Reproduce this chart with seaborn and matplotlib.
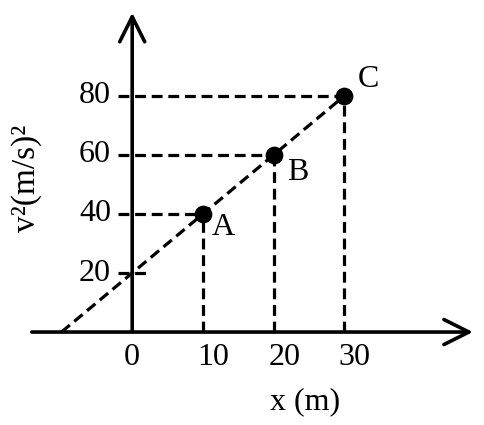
import matplotlib
matplotlib.use("Agg")
import matplotlib.pyplot as plt
import seaborn as sns
import pandas as pd

# points
point_names = ["A", "B", "C"]
x_vals = [10, 20, 30]
v2_vals = [40, 60, 80]

# dashed straight line through the points, meets the x axis at -10
fit_x = [-10, 30]
fit_v2 = [0, 80]

x_ticks = [0, 10, 20, 30]
y_ticks = [20, 40, 60, 80]

sns.set_style("white")
plt.rcParams["font.family"] = ["Liberation Serif", "DejaVu Serif"]
plt.rcParams["text.color"] = "black"

points = pd.DataFrame({"name": point_names, "x": x_vals, "v2": v2_vals})
fit = pd.DataFrame({"x": fit_x, "v2": fit_v2})

fig = plt.figure(figsize=(4.85, 4.25), dpi=100)
ax = fig.add_axes([0, 0, 1, 1])
ax.set_xlim(-18.7, 49.9)
ax.set_ylim(-31.5, 112.5)
ax.axis("off")

dash = (0, (3.4, 1.8))
lw = 2.3

# axes drawn as arrows
arrow = dict(arrowstyle="->,head_length=0.9,head_width=0.45", lw=2.6,
             color="black", mutation_scale=20, shrinkA=0, shrinkB=0)
ax.annotate("", xy=(48.2, 0), xytext=(-14.2, 0), arrowprops=arrow)
ax.annotate("", xy=(0, 108.2), xytext=(0, 0), arrowprops=arrow)

sns.lineplot(data=fit, x="x", y="v2", ax=ax, color="black", lw=lw,
             linestyle=dash, legend=False)

# drop lines to the axes
for xv, yv in zip(x_vals, v2_vals):
    ax.plot([-2, xv], [yv, yv], color="black", lw=lw, linestyle=dash)
    ax.plot([xv, xv], [0, yv], color="black", lw=lw, linestyle=dash)
ax.plot([-2, 1.9], [20, 20], color="black", lw=lw, linestyle=dash)

sns.scatterplot(data=points, x="x", y="v2", ax=ax, color="black", s=140,
                edgecolor="black", zorder=5, legend=False)

fs = 23
offsets = {"A": (2.9, -4.5), "B": (3.4, -6), "C": (3.4, 5.5)}
for name, xv, yv in zip(point_names, x_vals, v2_vals):
    dx, dy = offsets[name]
    ax.text(xv + dx, yv + dy, name, fontsize=fs, ha="center", va="center")

for t in x_ticks:
    ax.text(t + (0 if t == 0 else 1.5), -8.5, str(t), fontsize=fs,
            ha="center", va="center")
for t in y_ticks:
    ax.text(-3.0, t, str(t), fontsize=fs, ha="right", va="center")

ax.text(24.5, -23.5, "x (m)", fontsize=fs, ha="center", va="center")
ax.text(-14.9, 52, "v²(m/s)²", fontsize=24, rotation=90,
        ha="center", va="center")

fig.savefig("out.png", dpi=100)
